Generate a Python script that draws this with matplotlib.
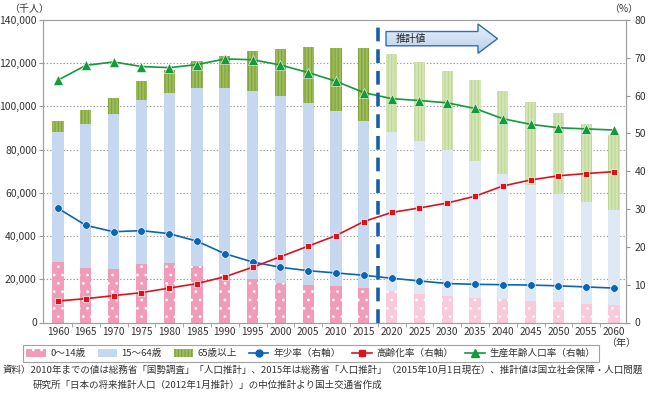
import matplotlib
matplotlib.use("Agg")
import matplotlib.pyplot as plt
import numpy as np
from matplotlib.patches import Polygon, Patch
from matplotlib.lines import Line2D
from matplotlib.colors import LinearSegmentedColormap

plt.rcParams['font.family'] = ['Noto Sans CJK JP', 'DejaVu Sans']

years = [1960, 1965, 1970, 1975, 1980, 1985, 1990, 1995, 2000, 2005, 2010,
         2015, 2020, 2025, 2030, 2035, 2040, 2045, 2050, 2055, 2060]
pop_0_14 = [28067, 25166, 24823, 27221, 27507, 26033, 22486, 20014, 18472, 17521, 16803,
            15887, 14568, 13240, 12039, 11287, 10732, 10116, 9387, 8614, 7912]
pop_15_64 = [60002, 66928, 71566, 75807, 78835, 82506, 85904, 87165, 86220, 84092, 81032,
             77282, 73408, 70845, 67730, 63430, 57866, 53531, 50013, 47063, 44183]
pop_65 = [5350, 6181, 7331, 8865, 10647, 12468, 14895, 18261, 22005, 25672, 29246,
          33952, 36124, 36573, 36849, 37407, 38678, 38564, 37676, 36257, 34642]
youth_rate = [30.2, 25.7, 24.0, 24.3, 23.5, 21.5, 18.2, 16.0, 14.6, 13.7, 13.1,
              12.5, 11.7, 11.0, 10.3, 10.1, 10.0, 9.9, 9.7, 9.4, 9.1]
aging_rate = [5.7, 6.3, 7.1, 7.9, 9.1, 10.3, 12.1, 14.6, 17.4, 20.2, 23.0,
              26.7, 29.1, 30.3, 31.6, 33.4, 36.1, 37.7, 38.8, 39.4, 39.9]
working_rate = [64.1, 68.0, 68.9, 67.7, 67.4, 68.2, 69.7, 69.5, 68.1, 66.1, 63.8,
                60.8, 59.2, 58.7, 58.1, 56.6, 53.9, 52.4, 51.5, 51.2, 50.9]
first_projection_year = 2020

left_ticks = [0, 20000, 40000, 60000, 80000, 100000, 120000, 140000]
right_ticks = [0, 10, 20, 30, 40, 50, 60, 70, 80]

W, H = 649, 401
fig = plt.figure(figsize=(W / 100, H / 100), dpi=100)
ax = fig.add_axes([43 / W, 1 - 322.5 / H, (626 - 43) / W, (322.5 - 20) / H])
ax2 = ax.twinx()

x = np.arange(len(years))
proj = np.array(years) >= first_projection_year
bw = 0.4
FS = 7.3
LFS = 6.9

c_pink = ['#fac9da' if p else '#f29bb9' for p in proj]
c_blue = ['#dfe9f6' if p else '#c6d8ef' for p in proj]
c_green = ['#d4e5b5' if p else '#9dbd5b' for p in proj]
e_green = ['#bfd695' if p else '#7fa23a' for p in proj]

plt.rcParams['hatch.linewidth'] = 0.8
b0 = np.array(pop_0_14)
b1 = np.array(pop_15_64)
b2 = np.array(pop_65)
for i in range(len(years)):
    ax.bar(x[i], b0[i], bw, color=c_pink[i], edgecolor='white', hatch='..', linewidth=0, zorder=2)
    ax.bar(x[i], b1[i], bw, bottom=b0[i], color=c_blue[i], linewidth=0, zorder=2)
    ax.bar(x[i], b2[i], bw, bottom=b0[i] + b1[i], color=c_green[i], edgecolor=e_green[i],
           hatch='|||||', linewidth=0, zorder=2)

ax.set_ylim(0, 140000)
ax.set_xlim(-0.54, len(years) - 1 + 0.43)
ax.set_yticks(left_ticks)
ax.set_yticklabels([f"{v:,}" for v in left_ticks], fontsize=7.5, color='#333333')
ax.set_xticks(x)
ax.set_xticklabels([str(y) for y in years], fontsize=FS, color='#333333')
ax.set_xticks(x[:-1] + 0.5, minor=True)
ax.tick_params(axis='x', which='major', length=0, pad=3.5)
ax.tick_params(axis='x', which='minor', length=3, color='#999999', direction='out')
ax.tick_params(axis='y', length=3, color='#999999', pad=1.5)
for y in left_ticks[1:-1]:
    ax.axhline(y, color='#9a9a9a', lw=0.8, ls=(0, (1.2, 1.8)), zorder=1)
for sp in ['left', 'right', 'top', 'bottom']:
    for a in (ax, ax2):
        a.spines[sp].set_color('#a0a0a0')
        a.spines[sp].set_linewidth(0.8)

ax2.set_ylim(0, 80)
ax2.set_yticks(right_ticks)
ax2.set_yticklabels([str(v) for v in right_ticks], fontsize=7.5, color='#333333')
ax2.tick_params(axis='y', length=3, color='#999999', pad=3)

ax2.plot(x, youth_rate, color='#0a65b3', lw=1.2, marker='o', ms=5.5, mec='white', mew=0.5, zorder=5)
ax2.plot(x, aging_rate, color='#d9141e', lw=1.2, marker='s', ms=5, mec='white', mew=0.5, zorder=5)
ax2.plot(x, working_rate, color='#129a3b', lw=1.2, marker='^', ms=6.5, mec='white', mew=0.4, zorder=5)

split = (int(np.argmax(proj)) - 0.5)
ax2.axvline(split, color='#1b5ea8', lw=2.6, ls=(0, (3.8, 2.2)), zorder=6)

# overlay for annotations
ov = fig.add_axes([0, 0, 1, 1], zorder=10)
ov.set_xlim(0, W)
ov.set_ylim(H, 0)
ov.axis('off')

arrow_pts = [(386, 31.5), (478, 31.5), (478, 24), (497.5, 38.7), (478, 53.3), (478, 45.8), (386, 45.8)]
poly = Polygon(arrow_pts, closed=True, facecolor='none', edgecolor='#2f6db3', lw=1.0, zorder=12)
ov.add_patch(poly)
grad = np.linspace(0, 1, 100).reshape(-1, 1)
cm = LinearSegmentedColormap.from_list('g', ['#e9f1fa', '#b9d0ea'])
im = ov.imshow(grad, cmap=cm, extent=(386, 498, 53.3, 24), aspect='auto', zorder=11)
clip = Polygon(arrow_pts, closed=True, transform=ov.transData, facecolor='none', edgecolor='none')
ov.add_patch(clip)
im.set_clip_path(clip)
ov.text(396, 38.8, '推計値', fontsize=7.3, color='#222222', va='center', ha='left', zorder=13)

ov.text(9, 9, '（千人）', fontsize=7.2, color='#333333', va='center', ha='left')
ov.text(609, 9, '（%）', fontsize=7.2, color='#333333', va='center', ha='left')
ov.text(606, 343, '（年）', fontsize=7.2, color='#333333', va='center', ha='left')

handles = [
    Patch(facecolor='#f29bb9', edgecolor='white', hatch='..', lw=0),
    Patch(facecolor='#c6d8ef', lw=0),
    Patch(facecolor='#9dbd5b', edgecolor='#7fa23a', hatch='|||||', lw=0),
    Line2D([], [], color='#0a65b3', lw=1.2, marker='o', ms=5),
    Line2D([], [], color='#d9141e', lw=1.2, marker='s', ms=4.5),
    Line2D([], [], color='#129a3b', lw=1.2, marker='^', ms=5.5),
]
labels = ['0～14歳', '15～64歳', '65歳以上', '年少率（右軸）', '高齢化率（右軸）', '生産年齢人口率（右軸）']
leg = fig.legend(handles, labels, ncol=6, loc='center left',
                 bbox_to_anchor=(23 / W, 1 - 353.5 / H), fontsize=LFS,
                 frameon=True, fancybox=False, edgecolor='#8a8a8a', handlelength=2.0,
                 handleheight=0.9, columnspacing=1.25, handletextpad=0.5,
                 borderpad=0.35, borderaxespad=0)
leg.get_frame().set_linewidth(0.8)
for t in leg.get_texts():
    t.set_color('#333333')

src1 = '資料）2010年までの値は総務省「国勢調査」「人口推計」、2015年は総務省「人口推計」（2015年10月1日現在）、推計値は国立社会保障・人口問題'
src2 = '研究所「日本の将来推計人口（2012年1月推計）」の中位推計より国土交通省作成'
ov.text(3, 370, src1, fontsize=6.85, color='#333333', va='center', ha='left')
ov.text(33, 385, src2, fontsize=6.85, color='#333333', va='center', ha='left')

fig.savefig('out.png', dpi=100)
